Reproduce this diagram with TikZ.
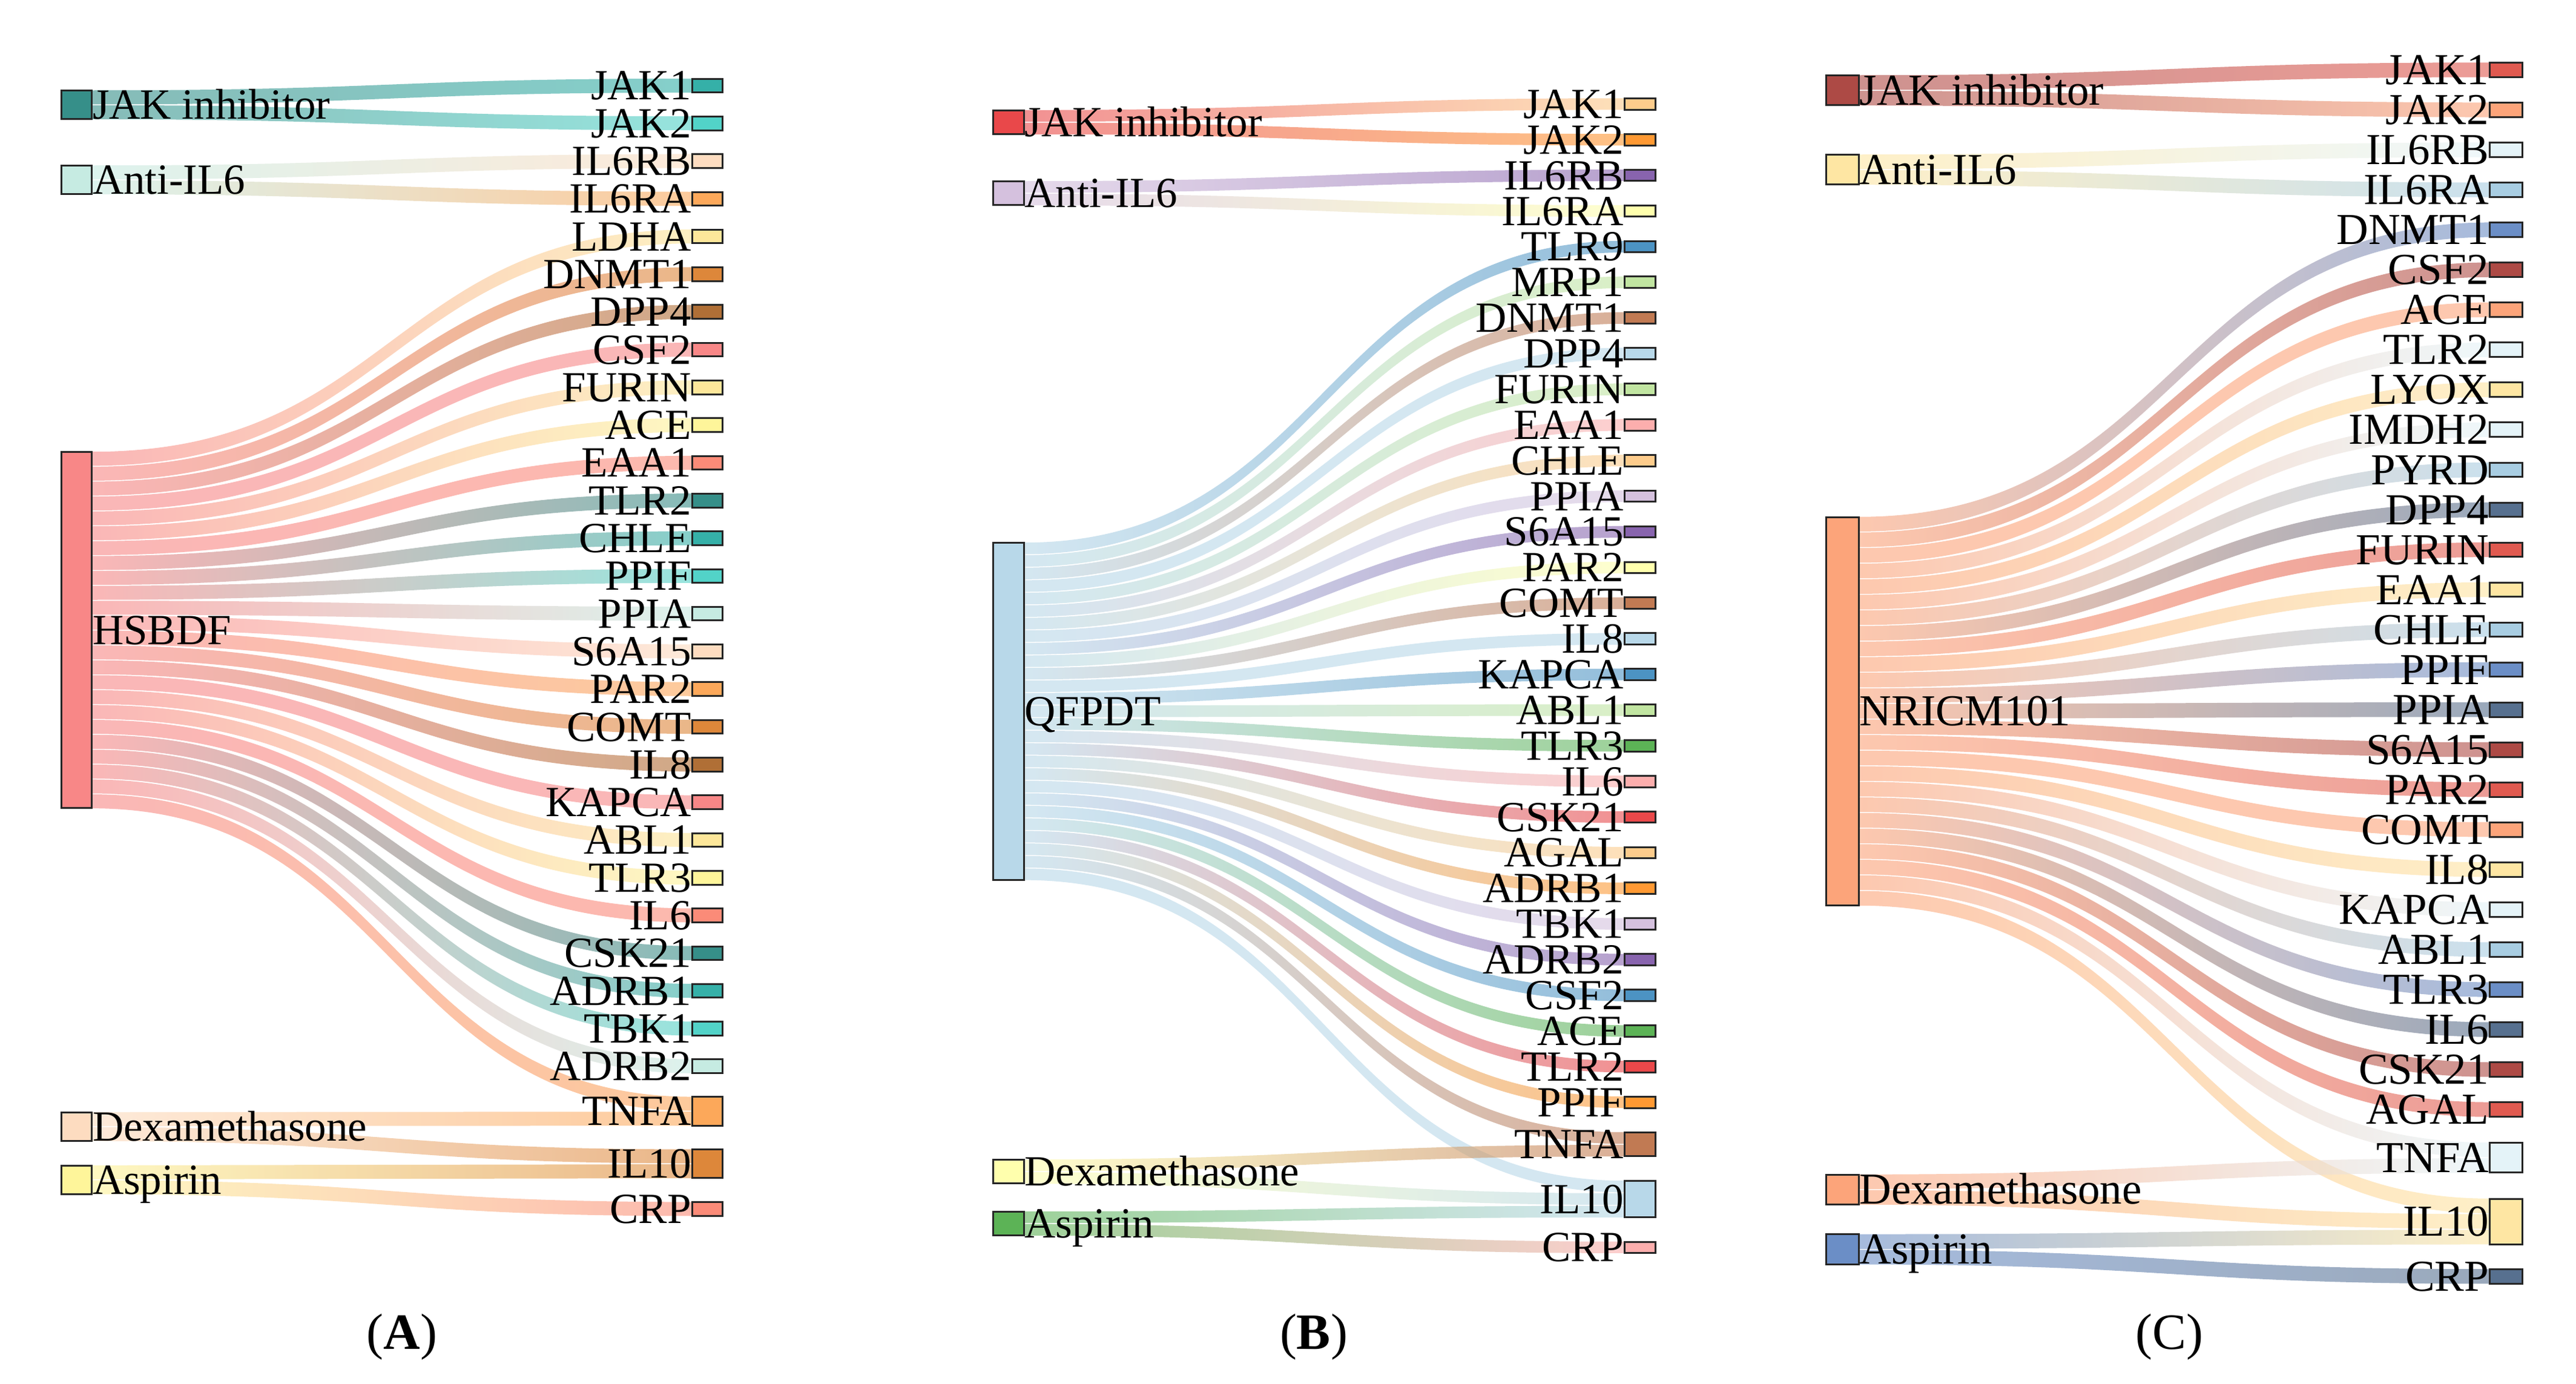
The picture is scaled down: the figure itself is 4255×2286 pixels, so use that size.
\documentclass[tikz,border=0pt]{standalone}
\usepackage{fontspec}
\setmainfont{Liberation Serif}
\usetikzlibrary{calc}
\pgfdeclarelayer{bg}
\pgfsetlayers{bg,main}
% panel A palette
\definecolor{c1}{HTML}{368F89}\definecolor{c2}{HTML}{35B0A8}\definecolor{c3}{HTML}{52D3C8}
\definecolor{c4}{HTML}{C6EBE2}\definecolor{c5}{HTML}{FDDCC0}\definecolor{c6}{HTML}{FCA85A}
\definecolor{c7}{HTML}{DD873A}\definecolor{c8}{HTML}{B06F36}\definecolor{c9}{HTML}{F88787}
\definecolor{c10}{HTML}{FDE79A}\definecolor{c11}{HTML}{FEF59A}\definecolor{c12}{HTML}{FB8B78}
% panel B palette
\definecolor{p1}{HTML}{B8D8E9}\definecolor{p2}{HTML}{4C93C3}\definecolor{p3}{HTML}{C1E5A1}
\definecolor{p4}{HTML}{5CB356}\definecolor{p5}{HTML}{FCAEAD}\definecolor{p6}{HTML}{E9484A}
\definecolor{p7}{HTML}{FDCC8C}\definecolor{p8}{HTML}{FF9933}\definecolor{p9}{HTML}{D5C1DE}
\definecolor{p10}{HTML}{8864AE}\definecolor{p11}{HTML}{FFFFAD}\definecolor{p12}{HTML}{C17A53}
% panel C palette
\definecolor{q1}{HTML}{AD4A45}\definecolor{q2}{HTML}{E05A50}\definecolor{q3}{HTML}{FCA47A}
\definecolor{q4}{HTML}{FEE6A3}\definecolor{q5}{HTML}{E4F3F8}\definecolor{q6}{HTML}{A8CDE2}
\definecolor{q7}{HTML}{6B8EC6}\definecolor{q8}{HTML}{57708F}
\tikzset{
  box/.style={draw=black!85, line width=0.3pt, inner sep=0pt, outer sep=0pt, anchor=north west},
  labA/.style={font=\fontsize{7.1}{8}\selectfont, inner sep=0pt, outer sep=0pt, text height=4.7pt, text depth=0pt},
  labC/.style={font=\fontsize{7.3}{8}\selectfont, inner sep=0pt, outer sep=0pt, text height=4.83pt, text depth=0pt},
  rlab/.style={anchor=east, xshift=-0.15pt},
  llab/.style={anchor=west, xshift=0.15pt},
  panel/.style={font=\fontsize{8.4}{9}\selectfont, inner sep=0pt, anchor=base},
}
% node box: name, x (path left), outer top, units, colour, width
\newcommand\sknode[6]{%
  \node[box, fill=#5, minimum width=#6, minimum height={(#4*\skU-2)*0.1pt}] (#1) at (#2,{#3+1.5}) {};}
% link band: source, source slot, target, target slot, source colour, target colour
\newcommand\sklink[6]{%
  \shade[left color=#5, right color=#6, fill opacity=0.6]
   let \p1=($(#1.north east)+(0,{(#2)*\skU-0.25})$),
       \p2=($(#3.north west)+(0,{(#4)*\skU-0.25})$),
       \p3=(0,{\skU-1.5})
   in (\x1,\y1) .. controls ({0.5*\x1+0.5*\x2},\y1) and ({0.5*\x1+0.5*\x2},\y2) .. (\x2,\y2)
   -- (\x2,{\y2+\y3}) .. controls ({0.5*\x1+0.5*\x2},{\y2+\y3}) and ({0.5*\x1+0.5*\x2},{\y1+\y3}) .. (\x1,{\y1+\y3}) -- cycle;}
\begin{document}
\begin{tikzpicture}[x=0.1pt,y=-0.1pt]
\useasboundingbox (0,0) rectangle (4255,2286);
\begin{pgfonlayer}{bg}
\fill[white] (0,0) rectangle (4255,2286);
\end{pgfonlayer}

%%%%%%%%%%%%%%%% Panel A
\def\skU{24.6}
\sknode{aJI}{101}{148}{2}{c1}{5.05pt}
\node[labA,llab] (aJIt) at (aJI.east) {JAK inhibitor};
\sknode{aAI}{101}{272}{2}{c4}{5.05pt}
\node[labA,llab] (aAIt) at (aAI.east) {Anti-IL6};
\sknode{aHS}{101}{745}{24}{c9}{5.05pt}
\node[labA,llab] (aHSt) at (aHS.east) {HSBDF};
\sknode{aDX}{101}{1835.8}{2}{c5}{5.05pt}
\node[labA,llab] (aDXt) at (aDX.east) {Dexamethasone};
\sknode{aAS}{101}{1923.6}{2}{c11}{5.05pt}
\node[labA,llab] (aASt) at (aAS.east) {Aspirin};
\foreach \nm/\cl [count=\i from 0] in {JAK1/c2,JAK2/c3,IL6RB/c5,IL6RA/c6,LDHA/c10,DNMT1/c7,DPP4/c8,CSF2/c9,FURIN/c10,ACE/c11,EAA1/c12,TLR2/c1,CHLE/c2,PPIF/c3,PPIA/c4,S6A15/c5,PAR2/c6,COMT/c7,IL8/c8,KAPCA/c9,ABL1/c10,TLR3/c11,IL6/c12,CSK21/c1,ADRB1/c2,TBK1/c3,ADRB2/c4}{
  \sknode{aR\i}{1143.2}{128.6+62.3*\i}{1}{\cl}{5.05pt}
  \node[labA,rlab] (aRt\i) at (aR\i.west) {\nm};
  \expandafter\xdef\csname aC\i\endcsname{\cl}
}
\sknode{aR27}{1143.2}{1810.3}{2}{c6}{5.05pt}
\node[labA,rlab] (aRt27) at (aR27.west) {TNFA};
\sknode{aR28}{1143.2}{1897.2}{2}{c7}{5.05pt}
\node[labA,rlab] (aRt28) at (aR28.west) {IL10};
\sknode{aR29}{1143.2}{1984.1}{1}{c12}{5.05pt}
\node[labA,rlab] (aRt29) at (aR29.west) {CRP};
\begin{pgfonlayer}{bg}
\sklink{aJI}{0}{aR0}{0}{c1}{c2}
\sklink{aJI}{1}{aR1}{0}{c1}{c3}
\sklink{aAI}{0}{aR2}{0}{c4}{c5}
\sklink{aAI}{1}{aR3}{0}{c4}{c6}
\foreach \i in {4,...,26}{\edef\skc{\csname aC\i\endcsname}\sklink{aHS}{\i-4}{aR\i}{0}{c9}{\skc}}
\sklink{aHS}{23}{aR27}{0}{c9}{c6}
\sklink{aDX}{0}{aR27}{1}{c5}{c6}
\sklink{aDX}{1}{aR28}{0}{c5}{c7}
\sklink{aAS}{0}{aR28}{1}{c11}{c7}
\sklink{aAS}{1}{aR29}{0}{c11}{c12}
\end{pgfonlayer}
\node[panel] (pA) at (664,2228) {(\textbf{A})};

%%%%%%%%%%%%%%%% Panel B
\def\skU{20.7}
\sknode{bJI}{1640.2}{180.6}{2}{p6}{5.09pt}
\node[labA,llab] (bJIt) at (bJI.east) {JAK inhibitor};
\sknode{bAI}{1640.2}{298}{2}{p9}{5.09pt}
\node[labA,llab] (bAIt) at (bAI.east) {Anti-IL6};
\sknode{bQF}{1640.2}{895}{27}{p1}{5.09pt}
\node[labA,llab] (bQFt) at (bQF.east) {QFPDT};
\sknode{bDX}{1640.2}{1914}{2}{p11}{5.09pt}
\node[labA,llab] (bDXt) at (bDX.east) {Dexamethasone};
\sknode{bAS}{1640.2}{1999.7}{2}{p4}{5.09pt}
\node[labA,llab] (bASt) at (bAS.east) {Aspirin};
\foreach \nm/\cl [count=\i from 0] in {JAK1/p7,JAK2/p8,IL6RB/p10,IL6RA/p11,TLR9/p2,MRP1/p3,DNMT1/p12,DPP4/p1,FURIN/p3,EAA1/p5,CHLE/p7,PPIA/p9,S6A15/p10,PAR2/p11,COMT/p12,IL8/p1,KAPCA/p2,ABL1/p3,TLR3/p4,IL6/p5,CSK21/p6,AGAL/p7,ADRB1/p8,TBK1/p9,ADRB2/p10,CSF2/p2,ACE/p4,TLR2/p6,PPIF/p8}{
  \sknode{bR\i}{2683.3}{161+58.886*\i}{1}{\cl}{5.09pt}
  \node[labA,rlab] (bRt\i) at (bR\i.west) {\nm};
  \expandafter\xdef\csname bC\i\endcsname{\cl}
}
\sknode{bR29}{2683.3}{1869}{2}{p12}{5.09pt}
\node[labA,rlab] (bRt29) at (bR29.west) {TNFA};
\sknode{bR30}{2683.3}{1949}{3}{p1}{5.09pt}
\node[labA,rlab] (bRt30) at (bR30.west) {IL10};
\sknode{bR31}{2683.3}{2049.5}{1}{p5}{5.09pt}
\node[labA,rlab] (bRt31) at (bR31.west) {CRP};
\begin{pgfonlayer}{bg}
\sklink{bJI}{0}{bR0}{0}{p6}{p7}
\sklink{bJI}{1}{bR1}{0}{p6}{p8}
\sklink{bAI}{0}{bR2}{0}{p9}{p10}
\sklink{bAI}{1}{bR3}{0}{p9}{p11}
\foreach \i in {4,...,28}{\edef\skc{\csname bC\i\endcsname}\sklink{bQF}{\i-4}{bR\i}{0}{p1}{\skc}}
\sklink{bQF}{25}{bR29}{0}{p1}{p12}
\sklink{bQF}{26}{bR30}{0}{p1}{p1}
\sklink{bDX}{0}{bR29}{1}{p11}{p12}
\sklink{bDX}{1}{bR30}{1}{p11}{p1}
\sklink{bAS}{0}{bR30}{2}{p4}{p1}
\sklink{bAS}{1}{bR31}{0}{p4}{p5}
\end{pgfonlayer}
\node[panel] (pB) at (2170,2228) {(\textbf{B})};

%%%%%%%%%%%%%%%% Panel C
\def\skU{25.74}
\sknode{cJI}{3016.5}{123}{2}{q1}{5.36pt}
\node[labC,llab] (cJIt) at (cJI.east) {JAK inhibitor};
\sknode{cAI}{3016.5}{254}{2}{q4}{5.36pt}
\node[labC,llab] (cAIt) at (cAI.east) {Anti-IL6};
\sknode{cNR}{3016.5}{852.5}{25}{q3}{5.36pt}
\node[labC,llab] (cNRt) at (cNR.east) {NRICM101};
\sknode{cDX}{3016.5}{1938.6}{2}{q3}{5.36pt}
\node[labC,llab] (cDXt) at (cDX.east) {Dexamethasone};
\sknode{cAS}{3016.5}{2037.3}{2}{q7}{5.36pt}
\node[labC,llab] (cASt) at (cAS.east) {Aspirin};
\foreach \nm/\cl [count=\i from 0] in {JAK1/q2,JAK2/q3,IL6RB/q5,IL6RA/q6,DNMT1/q7,CSF2/q1,ACE/q3,TLR2/q5,LYOX/q4,IMDH2/q5,PYRD/q6,DPP4/q8,FURIN/q2,EAA1/q4,CHLE/q6,PPIF/q7,PPIA/q8,S6A15/q1,PAR2/q2,COMT/q3,IL8/q4,KAPCA/q5,ABL1/q6,TLR3/q7,IL6/q8,CSK21/q1,AGAL/q2}{
  \sknode{cR\i}{4112.5}{102+66.05*\i}{1}{\cl}{5.36pt}
  \node[labC,rlab] (cRt\i) at (cR\i.west) {\nm};
  \expandafter\xdef\csname cC\i\endcsname{\cl}
}
\sknode{cR27}{4112.5}{1886}{2}{q5}{5.36pt}
\node[labC,rlab] (cRt27) at (cR27.west) {TNFA};
\sknode{cR28}{4112.5}{1978.5}{3}{q4}{5.36pt}
\node[labC,rlab] (cRt28) at (cR28.west) {IL10};
\sknode{cR29}{4112.5}{2095}{1}{q8}{5.36pt}
\node[labC,rlab] (cRt29) at (cR29.west) {CRP};
\begin{pgfonlayer}{bg}
\sklink{cJI}{0}{cR0}{0}{q1}{q2}
\sklink{cJI}{1}{cR1}{0}{q1}{q3}
\sklink{cAI}{0}{cR2}{0}{q4}{q5}
\sklink{cAI}{1}{cR3}{0}{q4}{q6}
\foreach \i in {4,...,26}{\edef\skc{\csname cC\i\endcsname}\sklink{cNR}{\i-4}{cR\i}{0}{q3}{\skc}}
\sklink{cNR}{23}{cR27}{0}{q3}{q5}
\sklink{cNR}{24}{cR28}{0}{q3}{q4}
\sklink{cDX}{0}{cR27}{1}{q3}{q5}
\sklink{cDX}{1}{cR28}{1}{q3}{q4}
\sklink{cAS}{0}{cR28}{2}{q7}{q4}
\sklink{cAS}{1}{cR29}{0}{q7}{q8}
\end{pgfonlayer}
\node[panel] (pC) at (3583,2228) {(C)};
\end{tikzpicture}
\end{document}
